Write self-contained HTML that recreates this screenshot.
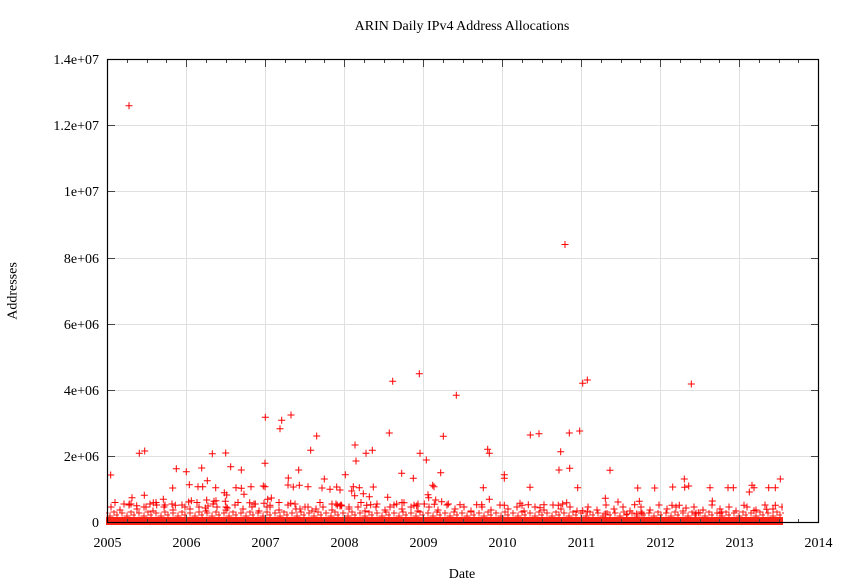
<!DOCTYPE html>
<html><head><meta charset="utf-8"><style>
html,body{margin:0;padding:0;background:#fff;}
svg{display:block;}
text{font-family:"Liberation Serif","Times New Roman",serif;font-size:14px;fill:#000;}
</style></head><body>
<svg width="841" height="586" viewBox="0 0 841 586" xmlns="http://www.w3.org/2000/svg">
<defs>
<marker id="pm" markerUnits="userSpaceOnUse" markerWidth="8" markerHeight="8" refX="4" refY="4" overflow="visible">
<path d="M0.5 4h7M4 0.5v7" stroke="#ff0000" stroke-width="1" fill="none"/>
</marker>
<pattern id="pa" patternUnits="userSpaceOnUse" x="0" y="501" width="53" height="12">
<path d="M1.5 6h7M5 2.5v7 M10.5 9h7M14 5.5v7 M19.5 4h7M23 0.5v7 M27.5 8h7M31 4.5v7 M36.5 6h7M40 2.5v7 M43.5 10h7M47 6.5v7" stroke="#ff0000" stroke-width="1" fill="none"/>
</pattern>
<pattern id="pc" patternUnits="userSpaceOnUse" x="0" y="499" width="41" height="12">
<path d="M4.5 5h7M8 1.5v7 M17.5 8h7M21 4.5v7 M29.5 3.5h7M33 0v7" stroke="#ff0000" stroke-width="1" fill="none"/>
</pattern>
<pattern id="pb" patternUnits="userSpaceOnUse" x="0" y="510" width="17" height="8">
<path d="M-0.5 3h7M3 -0.5v7 M4.5 6h7M8 2.5v7 M8.5 2h7M12 -1.5v7 M11.5 5h7M15 1.5v7" stroke="#ff1a10" stroke-width="1" fill="none"/>
</pattern>
</defs>
<rect width="841" height="586" fill="#fff"/>
<g stroke="#e0e0e0" stroke-width="1">
<path d="M186.5 60V522M265.5 60V522M344.5 60V522M423.5 60V522M502.5 60V522M581.5 60V522M660.5 60V522M739.5 60V522"/>
<path d="M108 456.5H818M108 390.5H818M108 324.5H818M108 258.5H818M108 191.5H818M108 125.5H818"/>
</g>
<rect x="107" y="501" width="676" height="12" fill="url(#pa)"/>
<rect x="107" y="499" width="320" height="12" fill="url(#pc)"/>
<rect x="106" y="510" width="678" height="8" fill="url(#pb)"/>
<rect x="106" y="517" width="677" height="8" fill="#ff2418"/>
<polyline fill="none" stroke="none" marker-start="url(#pm)" marker-mid="url(#pm)" marker-end="url(#pm)" points="
129,105.7 565,244.5 110.7,475 139.3,453.3 144.7,451 144.3,495.3 132,497.7 124,504 129.3,504 136.7,505.7
150,504 153.3,502.7 156.7,505 163.3,499.3 165,505 172.7,488 176.3,468.7 175.3,505.3 186.3,471.7 189.3,484.7
188.7,502 191.3,500.7 198,486.7 202.7,486.7 201.7,468 207.3,480.7 206.7,500 205.3,508 208,506 212.3,453.7
215.7,487.7 214,501.3 216,500.7 225.7,453 230.7,466.7 224.3,492.7 226.7,495 225.3,501.3 227.3,508 236,487.7
241.3,488.3 241.3,470 244,494.3 249.7,502.7 251,486.7 255.3,504 265.3,417.3 265,463.3 263.3,486 265,486.7
264,503.3 267.7,499.3 270,505.3 271.3,498 280,428.7 281.7,420.3 291,415 288.3,478 288,485 298.7,470
293.3,487 299.3,485.3 290.7,503.3 300,509 308,486.7 310.7,450.3 316.7,436 316,509 322,488 324.3,479
330,489.3 336.7,487 340,490 345.3,474.7 332,504 337.3,505.3 340,506 392.7,381.3 419.3,373.7 456.3,395.3
582.7,383.3 587.3,380 389.3,433 443.3,436.3 355,445 366,453.3 372.3,450.3 356,461 420,453.3 426.3,460
401.7,473.3 413.3,478.3 440.7,472.7 432.7,485.3 434,486.7 353.3,486.7 359.3,487.7 373.3,487 351.7,491 354.7,495.7
363.3,493.7 369.3,496.7 387.7,497.3 428,494.7 428.7,497.7 435.7,500 434.3,504.3 441.7,501.7 448.3,504 460,504.7
483.3,487.7 489.3,499.3 487.7,449.3 489.3,453.3 504.3,474.7 504.3,478.3 530,487.3 530.3,435 539,433.7 569.3,433
579.7,431 560.7,451.7 559,470 569.7,468.3 577.7,487.7 476.7,504.7 481.7,504.7 504.3,505.3 520,503.3 522,505.3
528.3,504.7 540,507.7 544,504.7 558.3,505.3 562.7,504 566.7,502.7 396.7,504 404,502.7 414,505.3 416.7,506
366.7,505.3 370.7,504.7 341.7,505.7 424.3,504 691.3,384 610,470.3 605.3,498.3 618,502 634.7,504.7 639.3,501.3
637.7,488 654.7,488 672.7,487 684.3,479 684.7,487.3 688.7,486 672,505.3 679.3,505.3 686,508 710,487.7
712.3,501 728,487.7 733.3,487.7 744,505.3 749.3,492 752,485.3 754,487.7 754,510.7 768.7,487.7 775.3,487.7
780.3,479 775.3,505.3 766.7,509.3 605.3,514 626.7,514 636.7,514 642,513.3 582.7,510.7 587.3,511.7 696,513.3
698.3,512.7 720,513.3 721.7,512"/>
<g stroke="#444" stroke-width="1">
<path d="M108 456.5h7M108 390.5h7M108 324.5h7M108 258.5h7M108 191.5h7M108 125.5h7"/>
<path d="M818 456.5h-7M818 390.5h-7M818 324.5h-7M818 258.5h-7M818 191.5h-7M818 125.5h-7"/>
<path d="M186.5 522v-7M265.5 522v-7M344.5 522v-7M423.5 522v-7M502.5 522v-7M581.5 522v-7M660.5 522v-7M739.5 522v-7"/>
<path d="M186.5 60v7M265.5 60v7M344.5 60v7M423.5 60v7M502.5 60v7M581.5 60v7M660.5 60v7M739.5 60v7"/>
<path d="M127.5 522v-3M147.5 522v-3M166.5 522v-3M206.5 522v-3M226.5 522v-3M245.5 522v-3M285.5 522v-3M305.5 522v-3M324.5 522v-3M364.5 522v-3M384.5 522v-3M403.5 522v-3M443.5 522v-3M463.5 522v-3M482.5 522v-3M522.5 522v-3M542.5 522v-3M561.5 522v-3M601.5 522v-3M621.5 522v-3M640.5 522v-3M680.5 522v-3M700.5 522v-3M719.5 522v-3M759.5 522v-3M779.5 522v-3M798.5 522v-3"/>
<path d="M127.5 60v3M147.5 60v3M166.5 60v3M206.5 60v3M226.5 60v3M245.5 60v3M285.5 60v3M305.5 60v3M324.5 60v3M364.5 60v3M384.5 60v3M403.5 60v3M443.5 60v3M463.5 60v3M482.5 60v3M522.5 60v3M542.5 60v3M561.5 60v3M601.5 60v3M621.5 60v3M640.5 60v3M680.5 60v3M700.5 60v3M719.5 60v3M759.5 60v3M779.5 60v3M798.5 60v3"/>
</g>
<rect x="107.5" y="59.5" width="711" height="463" fill="none" stroke="#000" stroke-width="1.2"/>
<g text-anchor="end">
<text x="99" y="527">0</text>
<text x="99" y="461">2e+06</text>
<text x="99" y="395">4e+06</text>
<text x="99" y="329">6e+06</text>
<text x="99" y="263">8e+06</text>
<text x="99" y="196">1e+07</text>
<text x="99" y="130">1.2e+07</text>
<text x="99" y="64">1.4e+07</text>
</g>
<g text-anchor="middle">
<text x="107.5" y="547">2005</text>
<text x="186.5" y="547">2006</text>
<text x="265.5" y="547">2007</text>
<text x="344.5" y="547">2008</text>
<text x="423.5" y="547">2009</text>
<text x="502.5" y="547">2010</text>
<text x="581.5" y="547">2011</text>
<text x="660.5" y="547">2012</text>
<text x="739.5" y="547">2013</text>
<text x="818.5" y="547">2014</text>
<text x="462" y="30">ARIN Daily IPv4 Address Allocations</text>
<text x="462" y="578">Date</text>
<text transform="translate(16.5,291) rotate(-90)">Addresses</text>
</g>
</svg>
</body></html>
